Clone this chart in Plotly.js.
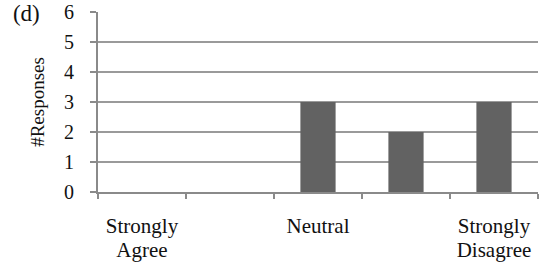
<!DOCTYPE html>
<html>
<head>
<meta charset="utf-8">
<script src="https://cdn.plot.ly/plotly-3.0.1.min.js"></script>
<style>html,body{margin:0;padding:0;background:#fff;}#chart{width:539px;height:266px;}</style>
</head>
<body>
<div id="chart"></div>
<script>
const categories = ["Strongly Agree", "Agree", "Neutral", "Disagree", "Strongly Disagree"];
const tickLabelsLine1 = ["Strongly", "", "Neutral", "", "Strongly"];
const tickLabelsLine2 = ["Agree", "", "", "", "Disagree"];
const responses = [0, 0, 3, 2, 3];
const yTicks = [0, 1, 2, 3, 4, 5, 6];

const FONT = "Liberation Serif";
const INK = "#111111";
const AXIS = "#8a8a8a";

const bars = {
  type: "bar",
  x: categories,
  y: responses,
  marker: {color: "#626262", line: {width: 0}},
  hoverinfo: "none"
};
// invisible companion trace so the second-line label axis knows the categories
const labelCarrier = {
  type: "scatter",
  mode: "none",
  x: categories,
  y: responses,
  xaxis: "x2",
  yaxis: "y",
  hoverinfo: "none",
  showlegend: false
};

const layout = {
  width: 539,
  height: 266,
  margin: {l: 98, r: 1, t: 12, b: 74},
  paper_bgcolor: "#ffffff",
  plot_bgcolor: "#ffffff",
  font: {family: FONT, size: 20, color: INK},
  showlegend: false,
  bargap: 0.6,
  title: {
    text: "(d)",
    font: {family: FONT, size: 23, color: INK},
    xref: "container", yref: "container",
    x: 0.024, xanchor: "left",
    y: 0.98, yanchor: "top",
    pad: {t: 0, l: 0}
  },
  xaxis: {
    type: "category",
    categoryorder: "array",
    categoryarray: categories,
    tickmode: "array",
    tickvals: categories,
    ticktext: tickLabelsLine1,
    tickson: "boundaries",
    ticks: "outside",
    ticklen: 5,
    tickwidth: 1.5,
    tickcolor: AXIS,
    showline: true,
    linecolor: AXIS,
    linewidth: 2,
    showgrid: false,
    zeroline: false,
    ticklabelstandoff: 14,
    tickfont: {family: FONT, size: 21, color: INK},
    fixedrange: true
  },
  xaxis2: {
    type: "category",
    overlaying: "x",
    matches: "x",
    anchor: "y",
    side: "bottom",
    categoryorder: "array",
    categoryarray: categories,
    tickmode: "array",
    tickvals: categories,
    ticktext: tickLabelsLine2,
    ticks: "",
    ticklen: 0,
    showline: false,
    showgrid: false,
    zeroline: false,
    ticklabelstandoff: 43,
    tickfont: {family: FONT, size: 21, color: INK},
    fixedrange: true
  },
  yaxis: {
    range: [0, 6],
    tickmode: "array",
    tickvals: yTicks,
    ticktext: yTicks.map(String),
    ticks: "outside",
    ticklen: 6,
    tickwidth: 1.5,
    tickcolor: AXIS,
    showline: true,
    linecolor: AXIS,
    linewidth: 2,
    showgrid: true,
    gridcolor: "#9a9a9a",
    gridwidth: 1.5,
    zeroline: false,
    ticklabelstandoff: 12,
    tickfont: {family: FONT, size: 20, color: INK},
    title: {
      text: "#Responses",
      font: {family: FONT, size: 19, color: INK},
      standoff: 14
    },
    fixedrange: true
  }
};

Plotly.newPlot("chart", [bars, labelCarrier], layout, {displayModeBar: false, staticPlot: true});
</script>
</body>
</html>
